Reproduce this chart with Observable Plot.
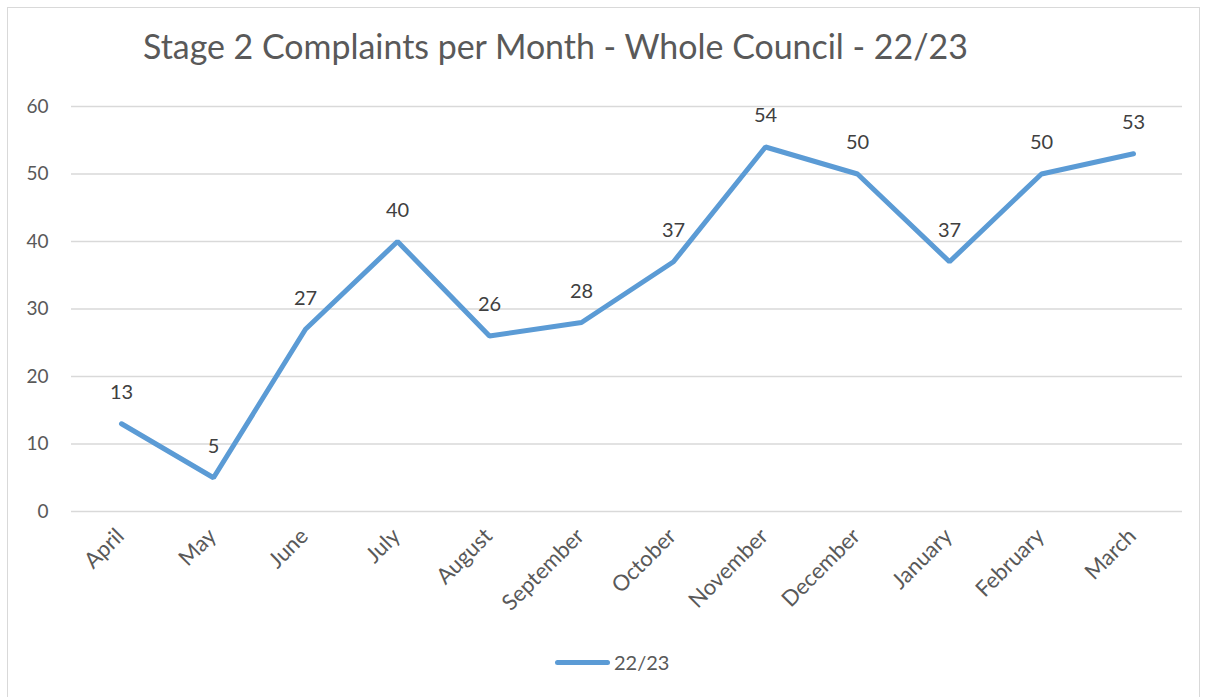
<!DOCTYPE html>
<html><head><meta charset="utf-8">
<script src="https://cdn.jsdelivr.net/npm/d3@7"></script>
<script src="https://cdn.jsdelivr.net/npm/@observablehq/plot@0.6"></script>
<style>
html,body{margin:0;padding:0;background:#fff;width:1205px;height:697px;overflow:hidden;font-family:Lato,"Open Sans",sans-serif;}
#frame{position:absolute;left:7px;top:7px;width:1193px;height:700px;border:1px solid #d9d9d9;box-sizing:border-box;}
#title{position:absolute;left:143px;top:26px;white-space:nowrap;color:#595959;font-size:32px;line-height:40px;}
#chart{position:absolute;left:0;top:0;}
#legend{position:absolute;left:555px;top:650px;display:flex;align-items:center;color:#595959;font-size:20px;}
#legend .sw{width:55px;height:5px;background:#5b9bd5;border-radius:3px;margin-right:4px;}
</style></head>
<body>
<div id="frame"></div>
<div id="chart"></div>
<div id="title">Stage 2 Complaints per Month - Whole Council - 22/23</div>
<div id="legend"><span class="sw"></span><span>22/23</span></div>
<script>
const months = ["April","May","June","July","August","September","October","November","December","January","February","March"];
const complaints = [13,5,27,40,26,28,37,54,50,37,50,53];
const yTicks = [0,10,20,30,40,50,60];
const seriesName = "22/23";

const data = months.map((m,i)=>({month:m, value:complaints[i]}));

const chart = Plot.plot({
  width:1205, height:640,
  marginLeft:71, marginRight:23, marginTop:106, marginBottom:129,
  style:{fontFamily:"Lato, 'Open Sans', sans-serif", fontSize:"19px", color:"#595959", background:"transparent"},
  x:{type:"point", domain:months, padding:0.5},
  y:{domain:[0,60], ticks:yTicks},
  marks:[
    Plot.gridY(yTicks,{stroke:"#d9d9d9", strokeOpacity:1, strokeWidth:1.5}),
    Plot.axisY({ticks:yTicks, tickSize:0, tickPadding:23, label:null, fontSize:19}),
    Plot.axisX({tickSize:0, tickRotate:-45, tickPadding:21, dx:-1, label:null, fontSize:22}),
    Plot.line(data,{x:"month", y:"value", stroke:"#5b9bd5", strokeWidth:5, strokeLinejoin:"miter", strokeLinecap:"round"}),
    Plot.text(data,{x:"month", y:"value", text:d=>String(d.value), dy:-31, fill:"#404040", fontSize:20})
  ]
});
document.getElementById("chart").appendChild(chart);

// fit title width to reference
const t = document.getElementById("title");
const w = t.getBoundingClientRect().width;
t.style.fontSize = (32*825/w).toFixed(2)+"px";
</script>
</body></html>
